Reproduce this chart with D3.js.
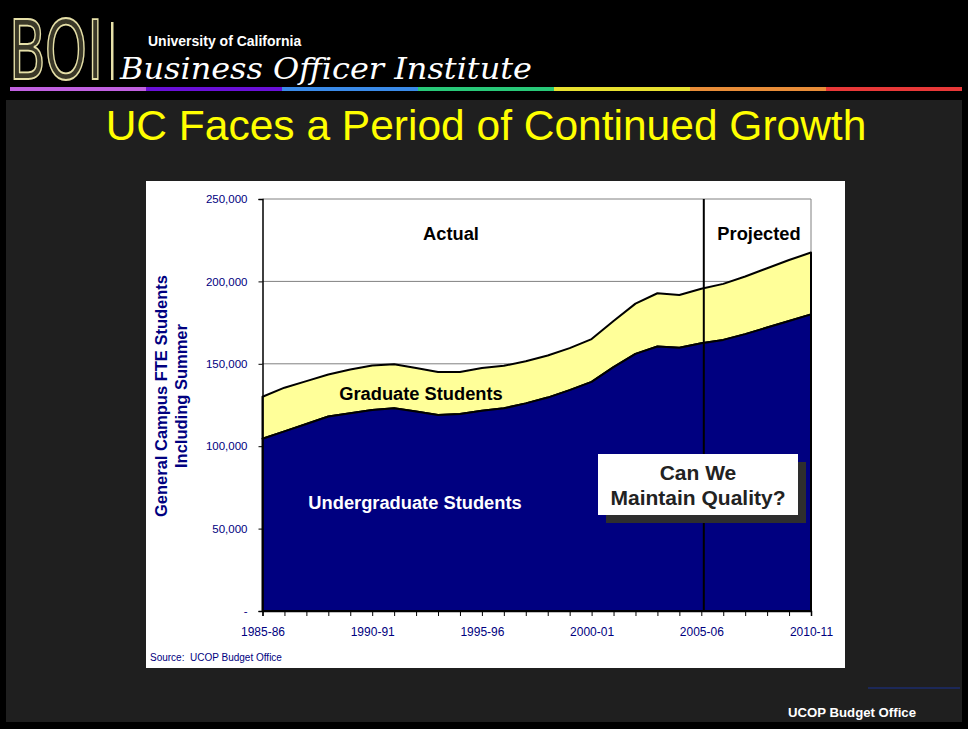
<!DOCTYPE html>
<html lang="en">
<head>
<meta charset="UTF-8">
<title>UC Faces a Period of Continued Growth</title>
<style>
  body { margin: 0; background: #000; }
  svg { display: block; }
</style>
</head>
<body>
<svg id="slide" width="968" height="729"></svg>
<script src="https://cdnjs.cloudflare.com/ajax/libs/d3/7.8.5/d3.min.js"></script>
<script>
// fiscal years, 1985-86 through 2010-11
var years = ["1985-86","1986-87","1987-88","1988-89","1989-90","1990-91","1991-92","1992-93",
  "1993-94","1994-95","1995-96","1996-97","1997-98","1998-99","1999-00","2000-01","2001-02",
  "2002-03","2003-04","2004-05","2005-06","2006-07","2007-08","2008-09","2009-10","2010-11"];

// undergraduate FTE (top of the navy area)
var undergrad = [104500,109000,113500,118000,120000,122000,123000,121000,119000,119500,
  121500,123000,126000,129500,134000,139000,148000,156000,160500,159800,
  162500,164500,168000,172000,176000,180000];

// total FTE = undergraduate + graduate (top of the yellow area)
var total = [130000,135500,139500,143500,146500,149000,149700,147500,145000,145000,
  147500,148800,151500,155000,159500,165000,176000,186500,192800,191800,
  195500,198500,203000,208000,213000,217500];

var yTicks = [0, 50000, 100000, 150000, 200000, 250000];
var labelYears = ["1985-86","1990-91","1995-96","2000-01","2005-06","2010-11"];
var projectionStart = "2005-06";

var svg = d3.select("#slide");
var font = "Liberation Sans, Arial, sans-serif";
var navy = "#000080";

// slide background + header
svg.append("rect").attr("width", 968).attr("height", 729).attr("fill", "#000");
svg.append("rect").attr("x", 6).attr("y", 100).attr("width", 956).attr("height", 622).attr("fill", "#1f1f1f");

svg.append("text").attr("x", 9).attr("y", 79)
  .attr("font-family", "Liberation Sans Narrow, DejaVu Sans Condensed, sans-serif")
  .attr("font-size", 82).attr("fill", "#3a3828")
  .attr("stroke", "#e6e0a8").attr("stroke-width", 1.8)
  .attr("textLength", 94).attr("lengthAdjust", "spacingAndGlyphs")
  .text("BOI");
svg.append("rect").attr("x", 111).attr("y", 22).attr("width", 2.5).attr("height", 58).attr("fill", "#e6e0a8");
svg.append("text").attr("x", 148).attr("y", 46)
  .attr("font-family", "Liberation Sans Narrow, " + font).attr("font-weight", "bold")
  .attr("font-size", 14).attr("fill", "#fff").text("University of California");
svg.append("text").attr("x", 120).attr("y", 79)
  .attr("font-family", "DejaVu Serif, serif").attr("font-style", "italic")
  .attr("font-size", 30).attr("fill", "#fff")
  .attr("textLength", 412).attr("lengthAdjust", "spacingAndGlyphs")
  .text("Business Officer Institute");

var rainbow = ["#c060e0","#6a10d8","#3a8ae8","#28c878","#e8e030","#e88c38","#e83838"];
var rb = d3.scaleBand().domain(d3.range(rainbow.length)).range([10, 962]);
svg.selectAll("rect.rb").data(rainbow).join("rect").attr("class", "rb")
  .attr("x", function (d, i) { return rb(i); }).attr("y", 87)
  .attr("width", rb.bandwidth()).attr("height", 4).attr("fill", function (d) { return d; });

svg.append("text").attr("x", 486).attr("y", 140).attr("text-anchor", "middle")
  .attr("font-family", font).attr("font-size", 42.5).attr("fill", "#ffff00")
  .text("UC Faces a Period of Continued Growth");

// chart panel
svg.append("rect").attr("x", 146).attr("y", 181).attr("width", 699).attr("height", 487).attr("fill", "#fff");

var x = d3.scalePoint().domain(years).range([262.5, 811]);
var y = d3.scaleLinear().domain([0, 250000]).range([611, 199]);
var idx = d3.range(years.length);

// plot border + gridlines
var g = svg.append("g");
g.selectAll("line.grid").data([150000, 200000, 250000]).join("line").attr("class", "grid")
  .attr("x1", x.range()[0]).attr("x2", x.range()[1])
  .attr("y1", function (d) { return y(d); }).attr("y2", function (d) { return y(d); })
  .attr("stroke", "#808080").attr("stroke-width", 1);
g.append("line").attr("x1", x.range()[1]).attr("x2", x.range()[1])
  .attr("y1", y(250000)).attr("y2", y(0)).attr("stroke", "#808080");

var ugArea = d3.area()
  .x(function (i) { return x(years[i]); })
  .y0(y(0)).y1(function (i) { return y(undergrad[i]); });
var gradArea = d3.area()
  .x(function (i) { return x(years[i]); })
  .y0(function (i) { return y(undergrad[i]); }).y1(function (i) { return y(total[i]); });

g.append("path").attr("d", gradArea(idx)).attr("fill", "#ffff99")
  .attr("stroke", "#000").attr("stroke-width", 2).attr("stroke-linejoin", "round");
g.append("path").attr("d", ugArea(idx)).attr("fill", navy)
  .attr("stroke", "#000").attr("stroke-width", 2).attr("stroke-linejoin", "round");

// actual / projected divider
var px = x(projectionStart) + 2.5;
g.append("line").attr("x1", px).attr("x2", px).attr("y1", y(250000)).attr("y2", y(0))
  .attr("stroke", "#000").attr("stroke-width", 2);

// axes
var yAxis = d3.axisLeft(y).tickValues(yTicks).tickSize(4).tickPadding(11)
  .tickFormat(function (d) { return d === 0 ? "-" : d3.format(",")(d); });
var ya = svg.append("g").attr("transform", "translate(" + x.range()[0] + ",0)").call(yAxis);
ya.select(".domain").attr("stroke", "#000").attr("stroke-width", 1.5);
ya.selectAll("line").attr("stroke", "#000");
ya.selectAll("text").attr("font-family", font).attr("font-size", 11.5).attr("fill", navy);

var xAxis = d3.axisBottom(x).tickSize(5).tickPadding(11)
  .tickFormat(function (d) { return labelYears.indexOf(d) >= 0 ? d : ""; });
var xa = svg.append("g").attr("transform", "translate(0," + y(0) + ")").call(xAxis);
xa.select(".domain").attr("stroke", "#000").attr("stroke-width", 1.5);
xa.selectAll("line").attr("stroke", "#000");
xa.selectAll("text").attr("font-family", font).attr("font-size", 12).attr("fill", navy);

// y axis title
var yt = svg.append("text").attr("transform", "translate(167,396) rotate(-90)")
  .attr("text-anchor", "middle").attr("font-family", font).attr("font-weight", "bold")
  .attr("font-size", 16.5).attr("fill", navy);
yt.append("tspan").attr("x", 0).attr("dy", 0).text("General Campus FTE Students");
yt.append("tspan").attr("x", 0).attr("dy", 20).text("Including Summer");

// in-chart labels
function label(t, cx, cy, color, size) {
  svg.append("text").attr("x", cx).attr("y", cy).attr("text-anchor", "middle")
    .attr("font-family", font).attr("font-weight", "bold").attr("font-size", size)
    .attr("fill", color).text(t);
}
label("Actual", 451, 240, "#000", 18.3);
label("Projected", 759, 240, "#000", 18.3);
label("Graduate Students", 421, 400, "#000", 18.3);
label("Undergraduate Students", 415, 509, "#fff", 18.3);

// callout
svg.append("rect").attr("x", 606).attr("y", 462).attr("width", 200).attr("height", 61).attr("fill", "#2e2e2e");
svg.append("rect").attr("x", 598).attr("y", 454).attr("width", 200).attr("height", 61).attr("fill", "#fff");
label("Can We", 698, 480, "#222", 21);
label("Maintain Quality?", 698, 505, "#222", 21);

svg.append("text").attr("x", 150).attr("y", 661).attr("font-family", font)
  .attr("font-size", 10).attr("fill", navy).attr("xml:space", "preserve")
  .text("Source:  UCOP Budget Office");

// footer
svg.append("line").attr("x1", 868).attr("x2", 960).attr("y1", 688).attr("y2", 688)
  .attr("stroke", "#1c2c6c").attr("stroke-width", 1.5);
svg.append("text").attr("x", 788).attr("y", 717).attr("font-family", font)
  .attr("font-weight", "bold").attr("font-size", 13.2).attr("fill", "#fff")
  .text("UCOP Budget Office");
</script>
</body>
</html>
